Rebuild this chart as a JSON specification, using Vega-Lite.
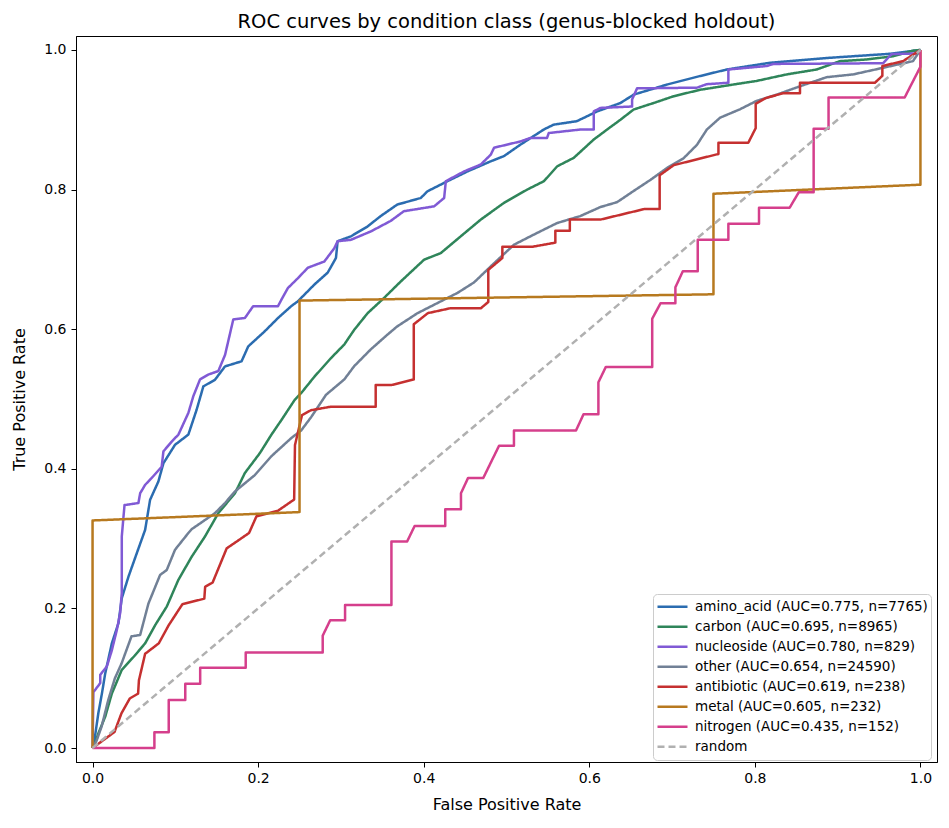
{
  "$schema": "https://vega.github.io/schema/vega-lite/v6.json",
  "width": 861,
  "height": 726,
  "autosize": {"type": "none"},
  "padding": {"left": 76, "top": 36, "right": 12, "bottom": 66},
  "background": "white",
  "title": {"text": "ROC curves by condition class (genus-blocked holdout)", "fontSize": 19.5, "font": "DejaVu Sans", "fontWeight": "normal", "color": "black", "anchor": "middle", "baseline": "alphabetic", "offset": -11},
  "config": {
    "view": {"stroke": "black", "strokeWidth": 1},
    "axis": {"domainColor": "black", "tickColor": "black", "labelColor": "black", "titleColor": "black", "labelFont": "DejaVu Sans", "titleFont": "DejaVu Sans", "labelFontSize": 14, "titleFontSize": 16, "titleFontWeight": "normal", "grid": false, "tickSize": 5, "labelFlush": false},
    "legend": {"fillColor": "white", "strokeColor": "#cccccc", "cornerRadius": 4, "padding": 3, "symbolType": "stroke", "symbolSize": 900, "symbolStrokeWidth": 3, "labelFont": "DejaVu Sans", "labelFontSize": 13.5, "labelColor": "black", "labelOffset": 6, "labelLimit": 400, "rowPadding": 0, "clipHeight": 19.4}
  },
  "data": {"values": [
    {"s":"amino_acid","x":0,"y":0},{"s":"amino_acid","x":0.002,"y":0.009},{"s":"amino_acid","x":0.007,"y":0.05},{"s":"amino_acid","x":0.0113,"y":0.078},{"s":"amino_acid","x":0.0153,"y":0.107},{"s":"amino_acid","x":0.0233,"y":0.15},{"s":"amino_acid","x":0.0313,"y":0.179},{"s":"amino_acid","x":0.0353,"y":0.2146},{"s":"amino_acid","x":0.0434,"y":0.2456},{"s":"amino_acid","x":0.0534,"y":0.279},{"s":"amino_acid","x":0.0635,"y":0.3125},{"s":"amino_acid","x":0.0695,"y":0.3556},{"s":"amino_acid","x":0.0795,"y":0.3818},{"s":"amino_acid","x":0.0856,"y":0.408},{"s":"amino_acid","x":0.0996,"y":0.4344},{"s":"amino_acid","x":0.1157,"y":0.449},{"s":"amino_acid","x":0.1257,"y":0.4846},{"s":"amino_acid","x":0.1338,"y":0.518},{"s":"amino_acid","x":0.1479,"y":0.5276},{"s":"amino_acid","x":0.16,"y":0.5467},{"s":"amino_acid","x":0.18,"y":0.554},{"s":"amino_acid","x":0.188,"y":0.5753},{"s":"amino_acid","x":0.208,"y":0.597},{"s":"amino_acid","x":0.224,"y":0.616},{"s":"amino_acid","x":0.24,"y":0.633},{"s":"amino_acid","x":0.248,"y":0.64},{"s":"amino_acid","x":0.268,"y":0.664},{"s":"amino_acid","x":0.284,"y":0.681},{"s":"amino_acid","x":0.294,"y":0.702},{"s":"amino_acid","x":0.296,"y":0.726},{"s":"amino_acid","x":0.312,"y":0.733},{"s":"amino_acid","x":0.332,"y":0.747},{"s":"amino_acid","x":0.348,"y":0.762},{"s":"amino_acid","x":0.368,"y":0.7785},{"s":"amino_acid","x":0.3965,"y":0.788},{"s":"amino_acid","x":0.4046,"y":0.7976},{"s":"amino_acid","x":0.4287,"y":0.812},{"s":"amino_acid","x":0.4528,"y":0.826},{"s":"amino_acid","x":0.481,"y":0.8405},{"s":"amino_acid","x":0.497,"y":0.848},{"s":"amino_acid","x":0.517,"y":0.8645},{"s":"amino_acid","x":0.545,"y":0.886},{"s":"amino_acid","x":0.557,"y":0.893},{"s":"amino_acid","x":0.585,"y":0.898},{"s":"amino_acid","x":0.6095,"y":0.912},{"s":"amino_acid","x":0.6376,"y":0.924},{"s":"amino_acid","x":0.6536,"y":0.936},{"s":"amino_acid","x":0.694,"y":0.9505},{"s":"amino_acid","x":0.734,"y":0.9627},{"s":"amino_acid","x":0.766,"y":0.972},{"s":"amino_acid","x":0.818,"y":0.9816},{"s":"amino_acid","x":0.8907,"y":0.9888},{"s":"amino_acid","x":0.963,"y":0.9945},{"s":"amino_acid","x":1,"y":1},
    {"s":"carbon","x":0,"y":0},{"s":"carbon","x":0.004,"y":0.01},{"s":"carbon","x":0.007,"y":0.021},{"s":"carbon","x":0.0153,"y":0.045},{"s":"carbon","x":0.0233,"y":0.078},{"s":"carbon","x":0.0353,"y":0.112},{"s":"carbon","x":0.0514,"y":0.133},{"s":"carbon","x":0.0635,"y":0.15},{"s":"carbon","x":0.0756,"y":0.176},{"s":"carbon","x":0.0896,"y":0.2026},{"s":"carbon","x":0.1037,"y":0.241},{"s":"carbon","x":0.1197,"y":0.274},{"s":"carbon","x":0.1358,"y":0.303},{"s":"carbon","x":0.1519,"y":0.3365},{"s":"carbon","x":0.172,"y":0.365},{"s":"carbon","x":0.184,"y":0.394},{"s":"carbon","x":0.2021,"y":0.4225},{"s":"carbon","x":0.2161,"y":0.449},{"s":"carbon","x":0.2282,"y":0.47},{"s":"carbon","x":0.2443,"y":0.499},{"s":"carbon","x":0.252,"y":0.5085},{"s":"carbon","x":0.268,"y":0.532},{"s":"carbon","x":0.288,"y":0.5586},{"s":"carbon","x":0.304,"y":0.578},{"s":"carbon","x":0.316,"y":0.599},{"s":"carbon","x":0.3323,"y":0.623},{"s":"carbon","x":0.3523,"y":0.645},{"s":"carbon","x":0.3724,"y":0.6685},{"s":"carbon","x":0.4005,"y":0.6996},{"s":"carbon","x":0.4206,"y":0.709},{"s":"carbon","x":0.4447,"y":0.733},{"s":"carbon","x":0.4689,"y":0.757},{"s":"carbon","x":0.497,"y":0.781},{"s":"carbon","x":0.525,"y":0.8},{"s":"carbon","x":0.5452,"y":0.812},{"s":"carbon","x":0.5613,"y":0.8334},{"s":"carbon","x":0.5813,"y":0.8455},{"s":"carbon","x":0.6054,"y":0.8717},{"s":"carbon","x":0.6215,"y":0.886},{"s":"carbon","x":0.6376,"y":0.9},{"s":"carbon","x":0.6536,"y":0.9147},{"s":"carbon","x":0.6777,"y":0.924},{"s":"carbon","x":0.7018,"y":0.9337},{"s":"carbon","x":0.734,"y":0.943},{"s":"carbon","x":0.774,"y":0.9505},{"s":"carbon","x":0.802,"y":0.9556},{"s":"carbon","x":0.8385,"y":0.965},{"s":"carbon","x":0.8747,"y":0.972},{"s":"carbon","x":0.9027,"y":0.984},{"s":"carbon","x":0.935,"y":0.9864},{"s":"carbon","x":0.967,"y":0.991},{"s":"carbon","x":0.991,"y":0.999},{"s":"carbon","x":1,"y":1},
    {"s":"nucleoside","x":0,"y":0},{"s":"nucleoside","x":0.001,"y":0.08},{"s":"nucleoside","x":0.0093,"y":0.093},{"s":"nucleoside","x":0.0093,"y":0.105},{"s":"nucleoside","x":0.0173,"y":0.117},{"s":"nucleoside","x":0.0233,"y":0.14},{"s":"nucleoside","x":0.0293,"y":0.169},{"s":"nucleoside","x":0.0333,"y":0.193},{"s":"nucleoside","x":0.0353,"y":0.222},{"s":"nucleoside","x":0.0353,"y":0.303},{"s":"nucleoside","x":0.0386,"y":0.348},{"s":"nucleoside","x":0.0554,"y":0.351},{"s":"nucleoside","x":0.0575,"y":0.365},{"s":"nucleoside","x":0.0635,"y":0.377},{"s":"nucleoside","x":0.0715,"y":0.387},{"s":"nucleoside","x":0.0835,"y":0.403},{"s":"nucleoside","x":0.0856,"y":0.425},{"s":"nucleoside","x":0.0956,"y":0.439},{"s":"nucleoside","x":0.1037,"y":0.449},{"s":"nucleoside","x":0.1157,"y":0.48},{"s":"nucleoside","x":0.1217,"y":0.504},{"s":"nucleoside","x":0.1298,"y":0.528},{"s":"nucleoside","x":0.1398,"y":0.535},{"s":"nucleoside","x":0.1519,"y":0.54},{"s":"nucleoside","x":0.16,"y":0.563},{"s":"nucleoside","x":0.17,"y":0.614},{"s":"nucleoside","x":0.184,"y":0.616},{"s":"nucleoside","x":0.194,"y":0.633},{"s":"nucleoside","x":0.224,"y":0.633},{"s":"nucleoside","x":0.228,"y":0.642},{"s":"nucleoside","x":0.236,"y":0.659},{"s":"nucleoside","x":0.248,"y":0.673},{"s":"nucleoside","x":0.26,"y":0.688},{"s":"nucleoside","x":0.28,"y":0.697},{"s":"nucleoside","x":0.292,"y":0.716},{"s":"nucleoside","x":0.296,"y":0.726},{"s":"nucleoside","x":0.312,"y":0.728},{"s":"nucleoside","x":0.336,"y":0.74},{"s":"nucleoside","x":0.36,"y":0.755},{"s":"nucleoside","x":0.376,"y":0.769},{"s":"nucleoside","x":0.4126,"y":0.776},{"s":"nucleoside","x":0.4247,"y":0.788},{"s":"nucleoside","x":0.4267,"y":0.812},{"s":"nucleoside","x":0.4488,"y":0.826},{"s":"nucleoside","x":0.469,"y":0.836},{"s":"nucleoside","x":0.481,"y":0.85},{"s":"nucleoside","x":0.485,"y":0.86},{"s":"nucleoside","x":0.517,"y":0.869},{"s":"nucleoside","x":0.529,"y":0.874},{"s":"nucleoside","x":0.549,"y":0.874},{"s":"nucleoside","x":0.551,"y":0.881},{"s":"nucleoside","x":0.589,"y":0.886},{"s":"nucleoside","x":0.6054,"y":0.886},{"s":"nucleoside","x":0.6054,"y":0.912},{"s":"nucleoside","x":0.6135,"y":0.917},{"s":"nucleoside","x":0.6517,"y":0.919},{"s":"nucleoside","x":0.6517,"y":0.929},{"s":"nucleoside","x":0.6577,"y":0.945},{"s":"nucleoside","x":0.73,"y":0.946},{"s":"nucleoside","x":0.742,"y":0.951},{"s":"nucleoside","x":0.768,"y":0.953},{"s":"nucleoside","x":0.768,"y":0.972},{"s":"nucleoside","x":0.8144,"y":0.977},{"s":"nucleoside","x":0.8225,"y":0.98},{"s":"nucleoside","x":0.955,"y":0.981},{"s":"nucleoside","x":0.965,"y":0.994},{"s":"nucleoside","x":0.995,"y":0.995},{"s":"nucleoside","x":1,"y":1},
    {"s":"other","x":0,"y":0},{"s":"other","x":0.005,"y":0.011},{"s":"other","x":0.011,"y":0.031},{"s":"other","x":0.019,"y":0.069},{"s":"other","x":0.027,"y":0.1},{"s":"other","x":0.035,"y":0.121},{"s":"other","x":0.047,"y":0.16},{"s":"other","x":0.0575,"y":0.162},{"s":"other","x":0.0675,"y":0.207},{"s":"other","x":0.0816,"y":0.248},{"s":"other","x":0.0896,"y":0.255},{"s":"other","x":0.0996,"y":0.284},{"s":"other","x":0.1157,"y":0.308},{"s":"other","x":0.1197,"y":0.3135},{"s":"other","x":0.1479,"y":0.3365},{"s":"other","x":0.16,"y":0.351},{"s":"other","x":0.172,"y":0.3675},{"s":"other","x":0.196,"y":0.391},{"s":"other","x":0.216,"y":0.418},{"s":"other","x":0.24,"y":0.444},{"s":"other","x":0.252,"y":0.455},{"s":"other","x":0.264,"y":0.474},{"s":"other","x":0.282,"y":0.506},{"s":"other","x":0.304,"y":0.528},{"s":"other","x":0.316,"y":0.547},{"s":"other","x":0.336,"y":0.571},{"s":"other","x":0.356,"y":0.592},{"s":"other","x":0.368,"y":0.604},{"s":"other","x":0.3926,"y":0.623},{"s":"other","x":0.4167,"y":0.6375},{"s":"other","x":0.4408,"y":0.652},{"s":"other","x":0.4608,"y":0.667},{"s":"other","x":0.481,"y":0.69},{"s":"other","x":0.509,"y":0.721},{"s":"other","x":0.533,"y":0.7355},{"s":"other","x":0.561,"y":0.752},{"s":"other","x":0.589,"y":0.762},{"s":"other","x":0.6135,"y":0.775},{"s":"other","x":0.6336,"y":0.782},{"s":"other","x":0.6536,"y":0.798},{"s":"other","x":0.674,"y":0.814},{"s":"other","x":0.694,"y":0.831},{"s":"other","x":0.714,"y":0.845},{"s":"other","x":0.73,"y":0.864},{"s":"other","x":0.742,"y":0.886},{"s":"other","x":0.758,"y":0.903},{"s":"other","x":0.782,"y":0.915},{"s":"other","x":0.802,"y":0.927},{"s":"other","x":0.8265,"y":0.936},{"s":"other","x":0.8545,"y":0.948},{"s":"other","x":0.8867,"y":0.961},{"s":"other","x":0.9188,"y":0.965},{"s":"other","x":0.955,"y":0.9745},{"s":"other","x":0.991,"y":0.984},{"s":"other","x":1,"y":1},
    {"s":"antibiotic","x":0,"y":0},{"s":"antibiotic","x":0.0265,"y":0.023},{"s":"antibiotic","x":0.035,"y":0.05},{"s":"antibiotic","x":0.045,"y":0.071},{"s":"antibiotic","x":0.055,"y":0.078},{"s":"antibiotic","x":0.056,"y":0.097},{"s":"antibiotic","x":0.0635,"y":0.135},{"s":"antibiotic","x":0.08,"y":0.15},{"s":"antibiotic","x":0.092,"y":0.176},{"s":"antibiotic","x":0.1085,"y":0.206},{"s":"antibiotic","x":0.135,"y":0.214},{"s":"antibiotic","x":0.136,"y":0.231},{"s":"antibiotic","x":0.145,"y":0.237},{"s":"antibiotic","x":0.162,"y":0.286},{"s":"antibiotic","x":0.189,"y":0.308},{"s":"antibiotic","x":0.198,"y":0.332},{"s":"antibiotic","x":0.224,"y":0.34},{"s":"antibiotic","x":0.2435,"y":0.356},{"s":"antibiotic","x":0.2445,"y":0.434},{"s":"antibiotic","x":0.253,"y":0.477},{"s":"antibiotic","x":0.264,"y":0.484},{"s":"antibiotic","x":0.288,"y":0.489},{"s":"antibiotic","x":0.342,"y":0.489},{"s":"antibiotic","x":0.342,"y":0.52},{"s":"antibiotic","x":0.361,"y":0.52},{"s":"antibiotic","x":0.388,"y":0.528},{"s":"antibiotic","x":0.388,"y":0.607},{"s":"antibiotic","x":0.405,"y":0.623},{"s":"antibiotic","x":0.432,"y":0.63},{"s":"antibiotic","x":0.469,"y":0.63},{"s":"antibiotic","x":0.478,"y":0.639},{"s":"antibiotic","x":0.478,"y":0.685},{"s":"antibiotic","x":0.495,"y":0.702},{"s":"antibiotic","x":0.495,"y":0.718},{"s":"antibiotic","x":0.531,"y":0.718},{"s":"antibiotic","x":0.559,"y":0.724},{"s":"antibiotic","x":0.559,"y":0.741},{"s":"antibiotic","x":0.5765,"y":0.741},{"s":"antibiotic","x":0.5765,"y":0.757},{"s":"antibiotic","x":0.6135,"y":0.757},{"s":"antibiotic","x":0.666,"y":0.772},{"s":"antibiotic","x":0.685,"y":0.772},{"s":"antibiotic","x":0.685,"y":0.8205},{"s":"antibiotic","x":0.702,"y":0.835},{"s":"antibiotic","x":0.756,"y":0.851},{"s":"antibiotic","x":0.756,"y":0.867},{"s":"antibiotic","x":0.792,"y":0.867},{"s":"antibiotic","x":0.801,"y":0.888},{"s":"antibiotic","x":0.801,"y":0.923},{"s":"antibiotic","x":0.813,"y":0.931},{"s":"antibiotic","x":0.834,"y":0.938},{"s":"antibiotic","x":0.8545,"y":0.938},{"s":"antibiotic","x":0.8545,"y":0.953},{"s":"antibiotic","x":0.945,"y":0.953},{"s":"antibiotic","x":0.954,"y":0.963},{"s":"antibiotic","x":0.954,"y":0.977},{"s":"antibiotic","x":0.979,"y":0.984},{"s":"antibiotic","x":1,"y":1},
    {"s":"metal","x":0,"y":0},{"s":"metal","x":0,"y":0.326},{"s":"metal","x":0.25,"y":0.338},{"s":"metal","x":0.25,"y":0.641},{"s":"metal","x":0.75,"y":0.65},{"s":"metal","x":0.75,"y":0.794},{"s":"metal","x":1,"y":0.807},{"s":"metal","x":1,"y":1},
    {"s":"nitrogen","x":0,"y":0},{"s":"nitrogen","x":0.0747,"y":0},{"s":"nitrogen","x":0.0747,"y":0.0225},{"s":"nitrogen","x":0.092,"y":0.0225},{"s":"nitrogen","x":0.092,"y":0.0688},{"s":"nitrogen","x":0.112,"y":0.0688},{"s":"nitrogen","x":0.112,"y":0.092},{"s":"nitrogen","x":0.13,"y":0.092},{"s":"nitrogen","x":0.13,"y":0.115},{"s":"nitrogen","x":0.185,"y":0.115},{"s":"nitrogen","x":0.185,"y":0.137},{"s":"nitrogen","x":0.278,"y":0.137},{"s":"nitrogen","x":0.278,"y":0.161},{"s":"nitrogen","x":0.287,"y":0.183},{"s":"nitrogen","x":0.305,"y":0.183},{"s":"nitrogen","x":0.305,"y":0.205},{"s":"nitrogen","x":0.361,"y":0.205},{"s":"nitrogen","x":0.361,"y":0.296},{"s":"nitrogen","x":0.38,"y":0.296},{"s":"nitrogen","x":0.389,"y":0.318},{"s":"nitrogen","x":0.426,"y":0.318},{"s":"nitrogen","x":0.426,"y":0.342},{"s":"nitrogen","x":0.445,"y":0.342},{"s":"nitrogen","x":0.445,"y":0.365},{"s":"nitrogen","x":0.4536,"y":0.387},{"s":"nitrogen","x":0.472,"y":0.387},{"s":"nitrogen","x":0.491,"y":0.433},{"s":"nitrogen","x":0.509,"y":0.433},{"s":"nitrogen","x":0.509,"y":0.455},{"s":"nitrogen","x":0.584,"y":0.455},{"s":"nitrogen","x":0.593,"y":0.478},{"s":"nitrogen","x":0.611,"y":0.478},{"s":"nitrogen","x":0.611,"y":0.524},{"s":"nitrogen","x":0.62,"y":0.546},{"s":"nitrogen","x":0.676,"y":0.546},{"s":"nitrogen","x":0.676,"y":0.615},{"s":"nitrogen","x":0.686,"y":0.637},{"s":"nitrogen","x":0.704,"y":0.637},{"s":"nitrogen","x":0.704,"y":0.66},{"s":"nitrogen","x":0.713,"y":0.683},{"s":"nitrogen","x":0.731,"y":0.683},{"s":"nitrogen","x":0.731,"y":0.728},{"s":"nitrogen","x":0.768,"y":0.728},{"s":"nitrogen","x":0.768,"y":0.751},{"s":"nitrogen","x":0.805,"y":0.751},{"s":"nitrogen","x":0.805,"y":0.774},{"s":"nitrogen","x":0.842,"y":0.774},{"s":"nitrogen","x":0.853,"y":0.796},{"s":"nitrogen","x":0.871,"y":0.796},{"s":"nitrogen","x":0.871,"y":0.887},{"s":"nitrogen","x":0.889,"y":0.887},{"s":"nitrogen","x":0.889,"y":0.932},{"s":"nitrogen","x":0.981,"y":0.932},{"s":"nitrogen","x":1,"y":0.976},{"s":"nitrogen","x":1,"y":1},
    {"s":"random","x":0,"y":0},{"s":"random","x":1,"y":1}
  ]},
  "mark": {"type": "line", "strokeJoin": "round", "strokeCap": "butt"},
  "encoding": {
    "x": {"field": "x", "type": "quantitative", "scale": {"domain": [-0.02, 1.02], "nice": false, "zero": false},
          "axis": {"values": [0, 0.2, 0.4, 0.6, 0.8, 1], "format": ".1f", "title": "False Positive Rate", "labelPadding": 4, "titlePadding": 11}},
    "y": {"field": "y", "type": "quantitative", "scale": {"domain": [-0.02, 1.02], "nice": false, "zero": false},
          "axis": {"values": [0, 0.2, 0.4, 0.6, 0.8, 1], "format": ".1f", "title": "True Positive Rate", "labelPadding": 5, "titlePadding": 16}},
    "order": {"value": null},
    "color": {"field": "s", "type": "nominal",
      "scale": {"domain": ["amino_acid","carbon","nucleoside","other","antibiotic","metal","nitrogen","random"],
                "range": ["#2b6cb0","#2f855a","#805ad5","#718096","#c53030","#b7791f","#d53f8c","#b0b0b0"]},
      "legend": {"title": null, "orient": "none", "legendX": 577, "legendY": 558,
        "labelExpr": "datum.label=='amino_acid'?'amino_acid (AUC=0.775, n=7765)':datum.label=='carbon'?'carbon (AUC=0.695, n=8965)':datum.label=='nucleoside'?'nucleoside (AUC=0.780, n=829)':datum.label=='other'?'other (AUC=0.654, n=24590)':datum.label=='antibiotic'?'antibiotic (AUC=0.619, n=238)':datum.label=='metal'?'metal (AUC=0.605, n=232)':datum.label=='nitrogen'?'nitrogen (AUC=0.435, n=152)':'random'"}},
    "strokeDash": {"field": "s", "type": "nominal",
      "scale": {"domain": ["amino_acid","carbon","nucleoside","other","antibiotic","metal","nitrogen","random"],
                "range": [[1,0],[1,0],[1,0],[1,0],[1,0],[1,0],[1,0],[7,4]]},
      "legend": {"title": null, "orient": "none", "legendX": 577, "legendY": 558,
        "labelExpr": "datum.label=='amino_acid'?'amino_acid (AUC=0.775, n=7765)':datum.label=='carbon'?'carbon (AUC=0.695, n=8965)':datum.label=='nucleoside'?'nucleoside (AUC=0.780, n=829)':datum.label=='other'?'other (AUC=0.654, n=24590)':datum.label=='antibiotic'?'antibiotic (AUC=0.619, n=238)':datum.label=='metal'?'metal (AUC=0.605, n=232)':datum.label=='nitrogen'?'nitrogen (AUC=0.435, n=152)':'random'"}},
    "strokeWidth": {"field": "s", "type": "nominal",
      "scale": {"domain": ["amino_acid","carbon","nucleoside","other","antibiotic","metal","nitrogen","random"],
                "range": [2.5,2.5,2.5,2.5,2.5,2.5,2.5,1.7]},
      "legend": {"title": null, "orient": "none", "legendX": 577, "legendY": 558,
        "labelExpr": "datum.label=='amino_acid'?'amino_acid (AUC=0.775, n=7765)':datum.label=='carbon'?'carbon (AUC=0.695, n=8965)':datum.label=='nucleoside'?'nucleoside (AUC=0.780, n=829)':datum.label=='other'?'other (AUC=0.654, n=24590)':datum.label=='antibiotic'?'antibiotic (AUC=0.619, n=238)':datum.label=='metal'?'metal (AUC=0.605, n=232)':datum.label=='nitrogen'?'nitrogen (AUC=0.435, n=152)':'random'"}}
  }
}
